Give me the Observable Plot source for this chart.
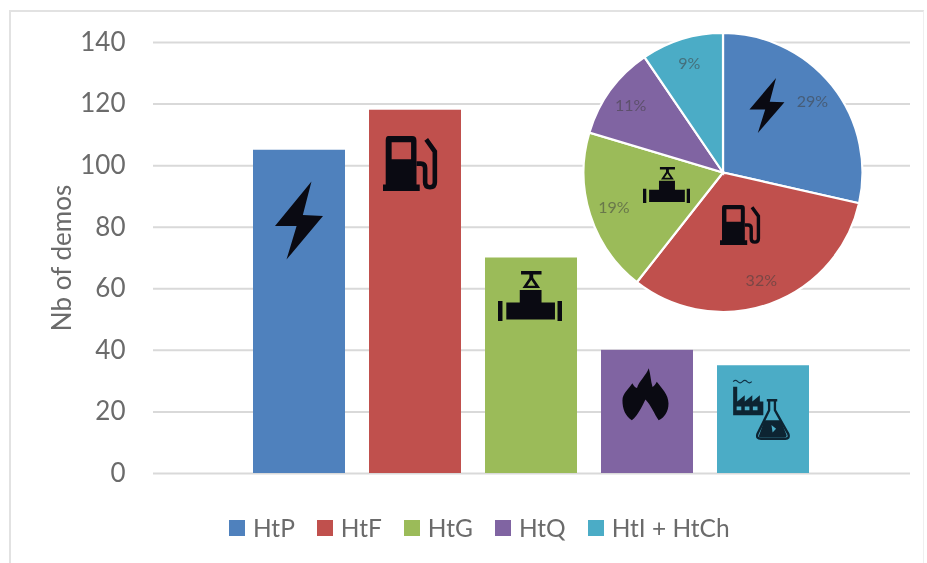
<!DOCTYPE html>
<html>
<head>
<meta charset="utf-8">
<style>
  html, body { margin: 0; padding: 0; background: #fff; }
  #page { position: relative; width: 927px; height: 563px; overflow: hidden; }
  #edge { position: absolute; left: 9px; top: 10px; width: 915px; height: 553px;
          border-top: 2px solid #e2e2e2; border-left: 2px solid #e2e2e2; border-right: 1px solid #efefef; box-sizing: border-box; }
  #chart { position: relative; filter: blur(0.6px); }
  #chart svg { background: transparent; display: block; }
</style>
<script src="https://cdn.jsdelivr.net/npm/d3@7"></script>
<script src="https://cdn.jsdelivr.net/npm/@observablehq/plot@0.6"></script>
</head>
<body>
<div id="page"><div id="edge"></div><div id="chart"></div></div>
<script>
// ---- data ----
const categories = ["HtP", "HtF", "HtG", "HtQ", "HtI + HtCh"];
const demos = [105, 118, 70, 40, 35];
const pieLabels = ["29%", "32%", "19%", "11%", "9%"];
const colors = ["#4f81bd", "#c0504d", "#9bbb59", "#8064a2", "#4bacc6"];
const yTicks = [0, 20, 40, 60, 80, 100, 120, 140];
const yTitle = "Nb of demos";

const rows = categories.map((name, i) => ({name, demos: demos[i], label: pieLabels[i]}));

// ---- icon glyphs, each in a 100x100 box ----
const ink = "#0a0a12";
const glyphs = {
  bolt: `<path fill="${ink}" d="M76 0 L0 57 L45 57 L24 100 L100 44 L58 43Z"/>`,
  pump: `<path fill="${ink}" fill-rule="evenodd" d="M10 0H54Q62 0 62 8V88H68V100H0V88H5V8Q5 0 10 0ZM16 11V42H52V11Z"/>
         <path fill="none" stroke="${ink}" stroke-width="8.5" d="M62 50H70Q78 50 78 58V84Q78 93 87 93Q96 93 96 84V28L80 6"/>`,
  valve: `<path fill="${ink}" d="M36 0H68V7H36ZM49 7H55V14H49ZM34 38H68V63H89V97H13V63H34ZM0 60H7V100H0ZM93 60H100V100H93Z"/>
          <path fill="none" stroke="${ink}" stroke-width="4.5" d="M52 13L42 32H62Z"/>`,
  flame: `<path fill="${ink}" d="M58 0C62 12 62 24 66 36C70 34 73 30 75 26C85 38 100 50 100 68C100 85 90 96 79 100C70 88 62 70 51 60C44 72 36 90 22 100C8 92 2 78 2 62C2 48 16 40 23 29C26 34 29 38 33 38C38 24 52 14 58 0Z"/>`,
  lab: `<path fill="none" stroke="#123247" stroke-width="2" d="M2 6q4-4 8 0t8 0t8 0t8 0"/>
        <path fill="#0d2432" fill-rule="evenodd" d="M2 60V14H9V38L22 28V38L35 28V38L48 28V38L54 38V60ZM8 46V52H16V46ZM22 46V52H30V46ZM36 46V52H44V46Z"/>
        <path fill="none" stroke="#0d2432" stroke-width="4" d="M60 36H78M64 36V52L44 90Q41 98 50 98H92Q100 98 97 90L74 52V36"/>
        <path fill="#0d2432" fill-rule="evenodd" d="M56 68H84L94 92Q95 96 90 96H50Q45 96 47 92ZM68 76L76 82L70 88Z"/>`
};

// ---- icon placement ----
const barIcons = [
  {glyph: "bolt",  cat: "HtP",  at: 82, w: 48, h: 78, dx: 0},
  {glyph: "pump",  cat: "HtF",  at: 100.5, w: 54, h: 55, dx: -5},
  {glyph: "valve", cat: "HtG",  at: 57.5, w: 64, h: 50, dx: -1},
  {glyph: "flame", cat: "HtQ",  at: 25.6, w: 47, h: 52, dx: -2},
  {glyph: "lab",   cat: "HtI + HtCh", at: 20.8, w: 58, h: 62, dx: -2}
];
const pieIcons = [
  {glyph: "bolt",  u: 0.315,  v: -0.48, w: 35, h: 55},
  {glyph: "pump",  u: 0.122,  v: 0.376, w: 40, h: 40},
  {glyph: "valve", u: -0.405, v: 0.09,  w: 47, h: 36}
];
const pie = {cx: 723, cy: 172.5, r: 139.5, labelAt: 0.82};

function place(g, glyph, cx, cy, w, h) {
  g.append("g")
    .attr("transform", `translate(${cx - w / 2},${cy - h / 2}) scale(${w / 100},${h / 100})`)
    .html(glyphs[glyph]);
}

// bar icons: located through the chart's x and y scales
function barIconMark(index, scales) {
  const g = d3.create("svg:g");
  const bw = scales.x.bandwidth();
  for (const c of barIcons) place(g, c.glyph, scales.x(c.cat) + bw / 2 + c.dx, scales.y(c.at), c.w, c.h);
  return g.node();
}

// pie inset: slices come from the same demo counts and the chart's colour scale
function pieMark(index, scales) {
  const g = d3.create("svg:g").attr("transform", `translate(${pie.cx},${pie.cy})`);
  const arcs = d3.pie().sort(null).value(d => d.demos)(rows);
  const arc = d3.arc().innerRadius(0).outerRadius(pie.r);
  g.selectAll("path").data(arcs).join("path")
    .attr("d", arc)
    .attr("fill", d => scales.color(d.data.name))
    .attr("stroke", "#fff").attr("stroke-width", 2.2);
  const lab = d3.arc().innerRadius(pie.r * pie.labelAt).outerRadius(pie.r * pie.labelAt);
  g.selectAll("text").data(arcs).join("text")
    .attr("transform", d => `translate(${lab.centroid(d)})`)
    .attr("text-anchor", "middle").attr("dy", "0.35em")
    .attr("font-size", 16).attr("fill", "#404040").attr("fill-opacity", 0.55)
    .text(d => d.data.label);
  for (const c of pieIcons) place(g, c.glyph, c.u * pie.r, c.v * pie.r, c.w, c.h);
  return g.node();
}

const chart = Plot.plot({
  width: 927,
  height: 510,
  marginTop: 42,
  marginBottom: 37,
  marginLeft: 153,
  marginRight: 17,
  style: {fontFamily: "Lato, sans-serif", background: "transparent"},
  x: {domain: categories, range: [253, 809.5], paddingInner: 0.205, paddingOuter: 0, axis: null},
  y: {domain: [0, 140], label: null},
  color: {domain: categories, range: colors},
  marks: [
    Plot.ruleY(yTicks, {stroke: "#d9d9d9", strokeWidth: 2}),
    Plot.axisY({ticks: yTicks, tickSize: 0, tickPadding: 28, fontSize: 26, color: "#6b6b6b", label: null}),
    Plot.text([yTitle], {frameAnchor: "left", rotate: -90, dx: -91, textAnchor: "middle", fontSize: 26, fill: "#6b6b6b"}),
    Plot.barY(rows, {x: "name", y: "demos", fill: "name"}),
    barIconMark,
    pieMark
  ]
});

document.getElementById("chart").append(chart);

const legend = chart.legend("color", {swatchSize: 16, className: "lg"});
legend.style.cssText += ";font:24.5px Lato,sans-serif;color:#6b6b6b;margin:0;padding:3px 0 0 229px;min-height:0;";
for (const swatch of legend.querySelectorAll("svg")) {
  swatch.style.marginRight = "8px";
  swatch.parentElement.style.marginRight = "22px";
}
document.getElementById("chart").append(legend);
</script>
</body>
</html>
